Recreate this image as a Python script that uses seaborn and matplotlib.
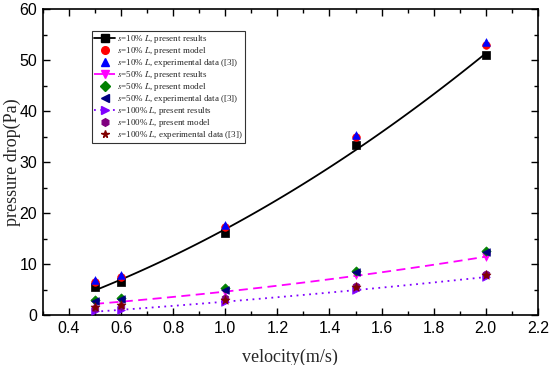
import numpy as np
import pandas as pd
import seaborn as sns
import matplotlib.pyplot as plt
from matplotlib.lines import Line2D
from matplotlib.ticker import MultipleLocator

# Data
velocity = [0.5, 0.6, 1.0, 1.5, 2.0]

s10_results = [5.5, 6.5, 16.0, 33.3, 51.0]
s10_model = [6.5, 7.5, 17.3, 35.0, 53.0]
s10_exp = [6.8, 7.9, 17.6, 35.3, 53.6]

s50_results = [2.3, 2.5, 4.5, 7.8, 11.4]
s50_model = [3.0, 3.3, 5.2, 8.6, 12.6]
s50_exp = [2.8, 3.2, 5.0, 8.5, 12.4]

s100_results = [0.7, 1.0, 2.5, 5.0, 7.4]
s100_model = [1.3, 1.8, 3.3, 5.6, 8.0]
s100_exp = [1.5, 1.9, 3.0, 5.5, 7.9]

x_ticks = [0.4, 0.6, 0.8, 1.0, 1.2, 1.4, 1.6, 1.8, 2.0, 2.2]

sns.set_theme(style="white")
plt.rcParams["font.family"] = ["Liberation Serif", "DejaVu Serif"]
plt.rcParams["mathtext.fontset"] = "stix"

fig = plt.figure(figsize=(5.5, 3.65), dpi=100)
ax = fig.add_axes([0.078, 0.137, 0.9, 0.838])

# fitted curves through the "present results" points
fit_x = np.linspace(0.5, 2.0, 100)
curves = [
    (s10_results, "black", "-"),
    (s50_results, "#ff00ff", (0, (5, 3))),
    (s100_results, "#8000ff", (0, (1, 2.5))),
]
for ys, color, ls in curves:
    coef = np.polyfit(velocity, ys, 2)
    df = pd.DataFrame({"x": fit_x, "y": np.polyval(coef, fit_x)})
    sns.lineplot(data=df, x="x", y="y", ax=ax, color=color, linestyle=ls, lw=1.3)

series = [
    (s10_results, "s", "black", r"$s$=10% $L$, present results", "-"),
    (s10_model, "o", "red", r"$s$=10% $L$, present model", None),
    (s10_exp, "^", "blue", r"$s$=10% $L$, experimental data ([3])", None),
    (s50_results, "v", "#ff00ff", r"$s$=50% $L$, present results", (0, (5, 3))),
    (s50_model, "D", "green", r"$s$=50% $L$, present model", None),
    (s50_exp, "<", "#000080", r"$s$=50% $L$, experimental data ([3])", None),
    (s100_results, ">", "#8000ff", r"$s$=100% $L$, present results", (0, (1, 2.5))),
    (s100_model, "h", "#800080", r"$s$=100% $L$, present model", None),
    (s100_exp, "*", "#800000", r"$s$=100% $L$, experimental data ([3])", None),
]

handles = []
for ys, mk, color, label, ls in series:
    size = 45 if mk == "*" else (22 if mk == "D" else 30)
    sns.scatterplot(x=velocity, y=ys, ax=ax, marker=mk, color=color, s=size,
                    edgecolor=color, linewidth=0.5, zorder=3, legend=False)
    handles.append(Line2D([], [], color=color, marker=mk, markersize=5.5,
                          linestyle=ls if ls else "none", lw=1.3, label=label))

ax.set_xlim(0.3, 2.2)
ax.set_ylim(0, 60)
ax.set_xticks(x_ticks)
ax.set_xticklabels([f"{t:.1f}" for t in x_ticks])
ax.xaxis.set_minor_locator(MultipleLocator(0.1))
ax.yaxis.set_major_locator(MultipleLocator(10))
ax.yaxis.set_minor_locator(MultipleLocator(5))
ax.tick_params(which="both", direction="in", bottom=True, left=True, top=True,
               right=True, colors="black")
ax.tick_params(which="major", length=5, width=1)
ax.tick_params(which="minor", length=3, width=1)
ax.tick_params(labelsize=11.5, pad=4)
for lab in ax.get_xticklabels() + ax.get_yticklabels():
    lab.set_family(["Liberation Sans", "DejaVu Sans"])
for sp in ax.spines.values():
    sp.set_color("black")
    sp.set_linewidth(1.2)

ax.set_xlabel("velocity(m/s)", fontsize=13)
ax.set_ylabel("pressure drop(Pa)", fontsize=13)
ax.xaxis.set_label_coords(0.5, -0.11)
ax.yaxis.set_label_coords(-0.044, 0.5)

leg = ax.legend(handles=handles, loc="upper left", bbox_to_anchor=(0.099, 0.928),
                borderaxespad=0, fontsize=6.5, handlelength=2.4, handletextpad=0.2,
                labelspacing=0.0, borderpad=0.2, frameon=True, fancybox=False)
leg.get_frame().set_edgecolor("black")
leg.get_frame().set_linewidth(0.8)

fig.savefig("out.png", dpi=100)
